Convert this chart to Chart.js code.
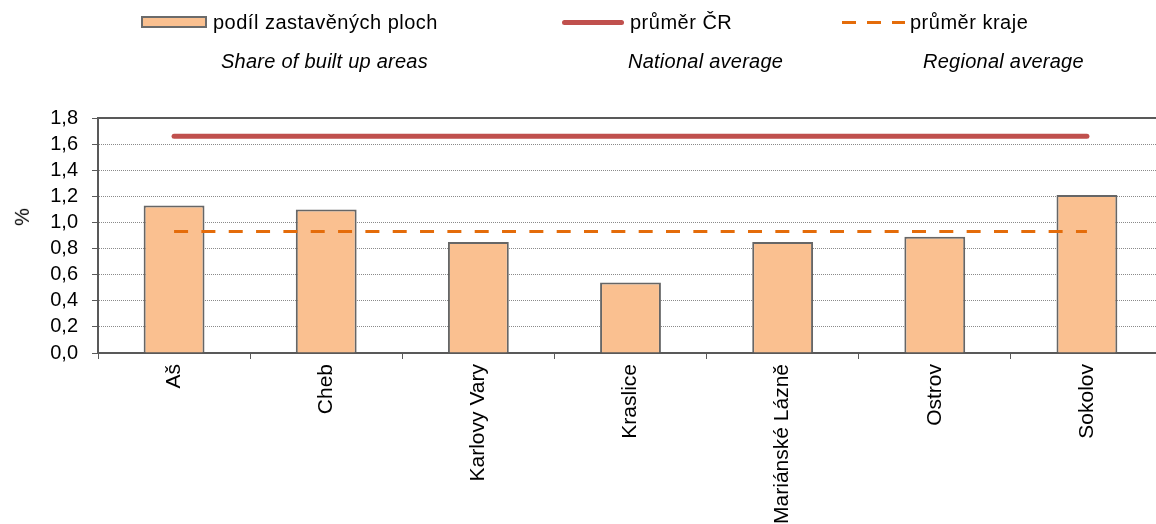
<!DOCTYPE html>
<html>
<head>
<meta charset="utf-8">
<script src="https://cdn.jsdelivr.net/npm/chart.js@4/dist/chart.umd.min.js"></script>
<style>
    body { margin: 0; background: #fff; font-family: "Liberation Sans", Arial, sans-serif; }
    #wrap { position: relative; width: 1156px; height: 524px; overflow: hidden; }
    #chartBox { position: absolute; left: 0; top: 0; width: 1164px; height: 524px; }
    .lg { position: absolute; font-size: 20px; line-height: 20px; color: #000; white-space: nowrap; letter-spacing: 0.5px; }
    .en { font-style: italic; letter-spacing: 0.25px; }
    .sw { position: absolute; }
    #yTitle { position: absolute; left: 13px; top: 207px; font-size: 20px; line-height: 20px; transform: rotate(-90deg); }
</style>
</head>
<body>
<div id="wrap">
    <div id="chartBox"><canvas id="chart" width="1164" height="524"></canvas></div>

    <div class="sw" style="left:141px;top:16px;width:62px;height:8px;background:#FAC090;border:2px solid #6b6b6b;"></div>
    <div class="lg" style="left:213px;top:12px;">podíl zastavěných ploch</div>
    <div class="lg en" style="left:221px;top:51px;">Share of built up areas</div>

    <div class="sw" style="left:562px;top:20px;width:62px;height:5px;background:#C0504D;border-radius:3px;"></div>
    <div class="lg" style="left:630px;top:12px;">průměr ČR</div>
    <div class="lg en" style="left:628px;top:51px;">National average</div>

    <div class="sw" style="left:842px;top:21px;width:14px;height:3px;background:#E46C0A;"></div>
    <div class="sw" style="left:867px;top:21px;width:14px;height:3px;background:#E46C0A;"></div>
    <div class="sw" style="left:892px;top:21px;width:13px;height:3px;background:#E46C0A;"></div>
    <div class="lg" style="left:910px;top:12px;">průměr kraje</div>
    <div class="lg en" style="left:923px;top:51px;">Regional average</div>

    <div id="yTitle">%</div>
</div>

<script>
    const categories = ["Aš", "Cheb", "Karlovy Vary", "Kraslice", "Mariánské Lázně", "Ostrov", "Sokolov"];
    const builtUpShare = [1.13, 1.10, 0.85, 0.54, 0.85, 0.89, 1.21];
    const nationalAverage = [1.66, 1.66, 1.66, 1.66, 1.66, 1.66, 1.66];
    const regionalAverage = [0.93, 0.93, 0.93, 0.93, 0.93, 0.93, 0.93];
    const yMin = 0;
    const yMax = 1.8;
    const yStep = 0.2;

    const axisColor = "#595959";

    // frame round the plot area (top and right side)
    const frame = {
        id: "frame",
        beforeDatasetsDraw(chart) {
            let a = chart.chartArea;
            let ctx = chart.ctx;
            ctx.save();
            ctx.strokeStyle = axisColor;
            ctx.lineWidth = 2;
            ctx.strokeRect(a.left, a.top, a.right - a.left, a.bottom - a.top);
            ctx.restore();
        }
    };

    let ctx = document.getElementById("chart").getContext("2d");

    new Chart(ctx, {
        type: "bar",
        data: {
            labels: categories,
            datasets: [
                {
                    type: "line",
                    label: "průměr ČR",
                    data: nationalAverage,
                    borderColor: "#C0504D",
                    borderWidth: 5,
                    borderCapStyle: "round",
                    pointRadius: 0,
                    fill: false,
                    order: 1
                },
                {
                    type: "line",
                    label: "průměr kraje",
                    data: regionalAverage,
                    borderColor: "#E46C0A",
                    borderWidth: 3,
                    borderDash: [14, 13.33],
                    pointRadius: 0,
                    fill: false,
                    order: 2
                },
                {
                    label: "podíl zastavěných ploch",
                    data: builtUpShare,
                    backgroundColor: "#FAC090",
                    borderColor: "#666666",
                    borderWidth: 2,
                    barPercentage: 0.4,
                    categoryPercentage: 1,
                    order: 3
                }
            ]
        },
        options: {
            responsive: false,
            animation: false,
            devicePixelRatio: 1,
            layout: { padding: { top: 118, right: 1, left: 0, bottom: 0 } },
            plugins: {
                legend: { display: false },
                tooltip: { enabled: false }
            },
            scales: {
                x: {
                    offset: true,
                    grid: {
                        offset: true,
                        drawOnChartArea: false,
                        drawTicks: true,
                        tickLength: 6,
                        tickColor: axisColor,
                        tickWidth: 1
                    },
                    border: { color: axisColor, width: 2 },
                    ticks: {
                        minRotation: 90,
                        maxRotation: 90,
                        autoSkip: false,
                        padding: 5,
                        color: "#000",
                        font: { family: "Liberation Sans", size: 21 }
                    },
                    afterFit: function (scale) { scale.height = 171; }
                },
                y: {
                    min: yMin,
                    max: yMax,
                    grid: {
                        color: function (c) {
                            if (c.tick.value <= yMin + 0.001 || c.tick.value >= yMax - 0.001) return "rgba(0,0,0,0)";
                            return "#8a8a8a";
                        },
                        lineWidth: 1,
                        drawTicks: true,
                        tickLength: 6,
                        tickColor: axisColor,
                        tickWidth: 1
                    },
                    border: { color: axisColor, width: 2, dash: [1, 1] },
                    ticks: {
                        stepSize: yStep,
                        autoSkip: false,
                        padding: 14,
                        color: "#000",
                        font: { family: "Liberation Sans", size: 20 },
                        callback: function (v) { return v.toFixed(1).replace(".", ","); }
                    },
                    afterFit: function (scale) { scale.width = 98; }
                }
            }
        },
        plugins: [frame]
    });
</script>
</body>
</html>
